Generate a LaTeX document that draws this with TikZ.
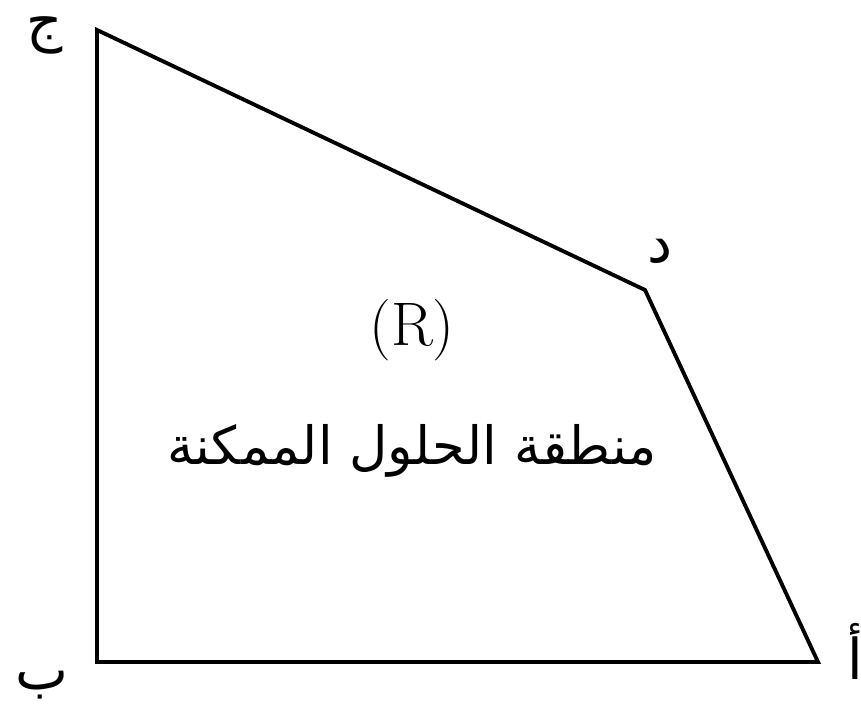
\documentclass[tikz,border=0pt]{standalone}
\usepackage{fontspec}
\newfontfamily\arabicfont[Script=Arabic]{DejaVu Sans}
\TeXXeTstate=1
\usetikzlibrary{positioning}

\begin{document}
\begin{tikzpicture}[
          rand/.style={black, line width=1.1pt, line join=miter},
          ecke/.style={font=\arabicfont\fontsize{16}{19}\selectfont, inner sep=0pt}
        ]
          \useasboundingbox (0,0) rectangle (8.61,7.23);

          % Ecken
          \coordinate (j) at (0.97,6.93);
          \coordinate (d) at (6.45,4.33);
          \coordinate (a) at (8.18,0.61);
          \coordinate (b) at (0.97,0.61);

          % Bereich
          \draw[rand] (j) -- (d) -- (a) -- (b) -- cycle;

          % Eckenbezeichnungen
          \node[ecke] (lj) at (0.45,6.88) {\beginR ج\endR};
          \node[ecke] (ld) at (6.60,4.72) {\beginR د\endR};
          \node[ecke] (la) at (8.55,0.72) {\beginR أ\endR};
          \node[ecke] (lb) at (0.42,0.38) {\beginR ب\endR};

          % Beschriftung
          \node[font=\fontsize{17.5}{20}\selectfont] (r) at (4.12,3.93) {(R)};
          \node[font=\arabicfont\fontsize{15}{18}\selectfont] (txt) at (4.12,2.72)
            {\beginR منطقة الحلول الممكنة\endR};
        \end{tikzpicture}
\end{document}
